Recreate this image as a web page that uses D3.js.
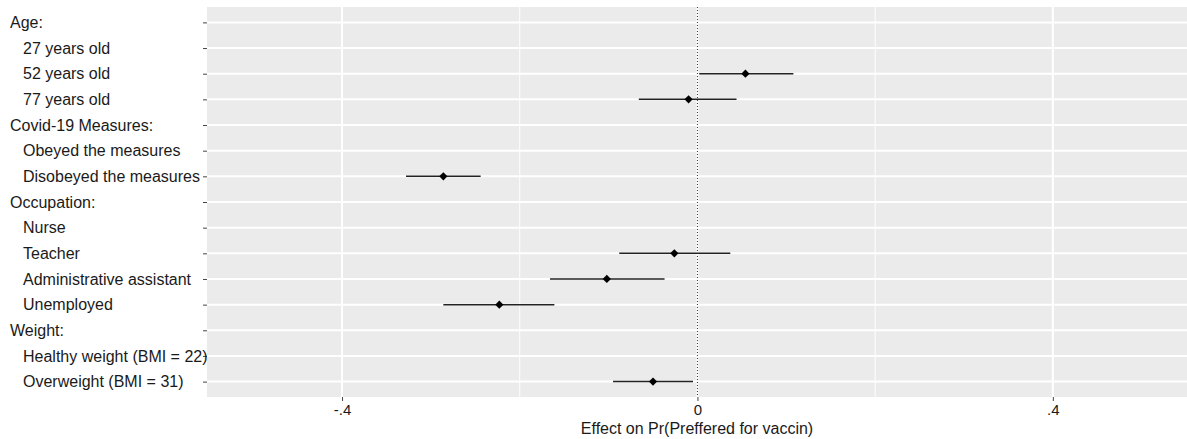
<!DOCTYPE html>
<html>
<head>
<meta charset="utf-8">
<script src="https://cdn.jsdelivr.net/npm/d3@7"></script>
<style>
  html, body { margin: 0; padding: 0; background: #fff; }
  svg { display: block; font-family: "Liberation Sans", Arial, sans-serif; }
</style>
</head>
<body>
<svg id="chart" width="1187" height="439"></svg>
<script>
// Row labels (top to bottom); headers flagged
const labels = [
  "Age:", "27 years old", "52 years old", "77 years old",
  "Covid-19 Measures:", "Obeyed the measures", "Disobeyed the measures",
  "Occupation:", "Nurse", "Teacher", "Administrative assistant", "Unemployed",
  "Weight:", "Healthy weight (BMI = 22)", "Overweight (BMI = 31)"
];
const isHeader = [true, false, false, false, true, false, false, true, false, false, false, false, true, false, false];
// Estimates (null = reference level / header)
const estimate = [null, null, 0.054, -0.010, null, null, -0.286, null, null, -0.026, -0.102, -0.223, null, null, -0.050];
const lower    = [null, null, 0.002, -0.066, null, null, -0.328, null, null, -0.088, -0.166, -0.286, null, null, -0.095];
const upper    = [null, null, 0.108,  0.044, null, null, -0.244, null, null,  0.037, -0.037, -0.161, null, null, -0.005];
const xTicks = [-0.4, 0, 0.4];
const xTickLabels = ["-.4", "0", ".4"];
const xMinor = [-0.2, 0.2];
const xTitle = "Effect on Pr(Preffered for vaccin)";

const svg = d3.select("#chart");
const panel = { left: 207, right: 1187, top: 7, bottom: 397 };

const x = d3.scaleLinear().domain([-0.552, 0.551]).range([panel.left, panel.right]);
const y = d3.scalePoint().domain(d3.range(labels.length)).range([panel.top, panel.bottom]).padding(0.6);

// Panel background
svg.append("rect")
  .attr("x", panel.left).attr("y", panel.top)
  .attr("width", panel.right - panel.left).attr("height", panel.bottom - panel.top)
  .attr("fill", "#EBEBEB");

// Minor vertical gridlines
svg.append("g").selectAll("line").data(xMinor).join("line")
  .attr("x1", d => x(d)).attr("x2", d => x(d))
  .attr("y1", panel.top).attr("y2", panel.bottom)
  .attr("stroke", "#fff").attr("stroke-width", 1);

// Major vertical gridlines
svg.append("g").selectAll("line").data(xTicks).join("line")
  .attr("x1", d => x(d)).attr("x2", d => x(d))
  .attr("y1", panel.top).attr("y2", panel.bottom)
  .attr("stroke", "#fff").attr("stroke-width", 2);

// Horizontal gridlines
svg.append("g").selectAll("line").data(d3.range(labels.length)).join("line")
  .attr("x1", panel.left).attr("x2", panel.right)
  .attr("y1", d => y(d)).attr("y2", d => y(d))
  .attr("stroke", "#fff").attr("stroke-width", 2);

// Zero reference line (dotted)
svg.append("line")
  .attr("x1", x(0)).attr("x2", x(0))
  .attr("y1", panel.top).attr("y2", panel.bottom)
  .attr("stroke", "#333").attr("stroke-width", 1)
  .attr("stroke-dasharray", "1,2");

// Y axis (custom labels)
const yAxis = svg.append("g").attr("transform", `translate(${panel.left},0)`)
  .call(d3.axisLeft(y).tickSize(4).tickSizeOuter(0).tickFormat(() => ""));
yAxis.select(".domain").remove();
yAxis.selectAll(".tick line").attr("stroke", "#444").attr("stroke-width", 1);

svg.append("g").selectAll("text").data(d3.range(labels.length)).join("text")
  .attr("x", d => isHeader[d] ? 10 : 23)
  .attr("y", d => y(d))
  .attr("dy", "0.36em")
  .attr("font-size", 16)
  .attr("fill", "#1a1a1a")
  .text(d => labels[d]);

// X axis
const xAxis = svg.append("g").attr("transform", `translate(0,${panel.bottom})`)
  .call(d3.axisBottom(x).tickValues(xTicks).tickSize(4).tickSizeOuter(0)
    .tickFormat((d, i) => xTickLabels[i]));
xAxis.select(".domain").remove();
xAxis.selectAll(".tick line").attr("stroke", "#444");
xAxis.selectAll(".tick text")
  .attr("font-family", "Liberation Sans, Arial, sans-serif")
  .attr("font-size", 15).attr("fill", "#1a1a1a").attr("dy", "0.85em").attr("y", 5);

svg.append("text")
  .attr("x", (panel.left + panel.right) / 2).attr("y", 434)
  .attr("text-anchor", "middle")
  .attr("font-size", 16).attr("fill", "#1a1a1a")
  .text(xTitle);

// Confidence intervals
const rows = d3.range(labels.length).filter(i => estimate[i] !== null);
svg.append("g").selectAll("line").data(rows).join("line")
  .attr("x1", i => x(lower[i])).attr("x2", i => x(upper[i]))
  .attr("y1", i => y(i)).attr("y2", i => y(i))
  .attr("stroke", "#222").attr("stroke-width", 1.5);

// Point estimates
svg.append("g").selectAll("path").data(rows).join("path")
  .attr("transform", i => `translate(${x(estimate[i])},${y(i)}) rotate(45)`)
  .attr("d", d3.symbol(d3.symbolSquare, 34))
  .attr("fill", "#000");
</script>
</body>
</html>
